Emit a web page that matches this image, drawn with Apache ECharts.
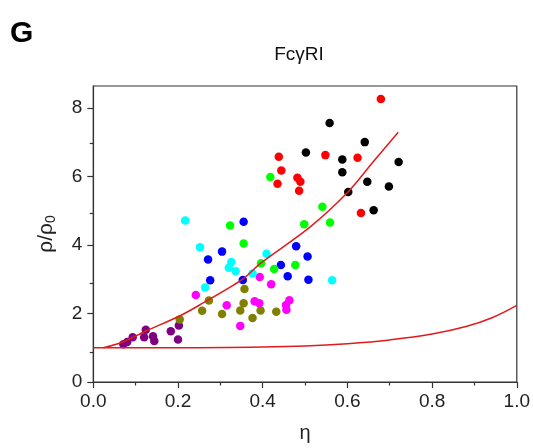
<!DOCTYPE html>
<html>
<head>
<meta charset="utf-8">
<script src="https://cdn.jsdelivr.net/npm/echarts@6/dist/echarts.min.js"></script>
<style>
  html, body { margin: 0; padding: 0; background: #fff; }
  #chart { width: 533px; height: 448px; }
</style>
</head>
<body>
<div id="chart"></div>
<script>
// Measured points: [η, ρ/ρ0] for each cell group
const purple = [[0.071,1.10],[0.080,1.17],[0.093,1.31],[0.124,1.53],[0.120,1.31],[0.141,1.34],[0.144,1.20],[0.183,1.48],[0.200,1.24],[0.202,1.65]];
const olive = [[0.204,1.83],[0.257,2.08],[0.273,2.38],[0.304,1.99],[0.347,2.09],[0.355,2.30],[0.357,2.72],[0.376,1.87],[0.395,2.09],[0.432,2.05]];
const magenta = [[0.242,2.54],[0.315,2.24],[0.347,1.64],[0.381,2.36],[0.392,2.30],[0.393,3.07],[0.420,2.86],[0.463,2.39],[0.455,2.25],[0.456,2.11]];
const cyan = [[0.217,4.72],[0.252,3.94],[0.264,2.76],[0.326,3.51],[0.320,3.34],[0.336,3.24],[0.409,3.75],[0.376,3.17],[0.564,2.97]];
const blue = [[0.355,4.68],[0.304,3.81],[0.271,3.58],[0.276,2.97],[0.353,2.98],[0.443,3.42],[0.459,3.09],[0.479,3.97],[0.506,3.67],[0.508,2.99]];
const green = [[0.323,4.57],[0.355,4.05],[0.396,3.47],[0.427,3.30],[0.477,3.42],[0.418,5.99],[0.498,4.61],[0.559,4.66],[0.541,5.12]];
const red = [[0.438,6.58],[0.444,6.18],[0.435,5.79],[0.482,5.97],[0.489,5.85],[0.486,5.59],[0.548,6.63],[0.624,6.55],[0.679,8.27],[0.632,4.94]];
const black = [[0.502,6.71],[0.558,7.57],[0.588,6.50],[0.588,6.13],[0.602,5.55],[0.641,7.01],[0.647,5.85],[0.662,5.02],[0.698,5.71],[0.721,6.43]];

// Model curves
const curveUpper = [[0.024,1.0],[0.07,1.17],[0.124,1.49],[0.204,1.93],[0.251,2.25],[0.351,2.99],[0.396,3.48],[0.51,4.51],[0.602,5.56],[0.66,6.42],[0.72,7.30]];
const curveLower = [[0,1.0],[0.2,1.0],[0.4,1.02],[0.5,1.05],[0.6,1.12],[0.7,1.23],[0.8,1.40],[0.88,1.62],[0.94,1.87],[1.0,2.24]];

// Axis ticks
const yMajorTicks = [0, 2, 4, 6, 8];
const yMinorTicks = [1, 3, 5, 7];

const groups = [
  { data: purple, color: '#800080' },
  { data: olive, color: '#808000' },
  { data: magenta, color: '#ff00ff' },
  { data: cyan, color: '#00ffff' },
  { data: blue, color: '#0000ff' },
  { data: green, color: '#00ff00' },
  { data: red, color: '#ff0000' },
  { data: black, color: '#000000' }
];

const FONT = '"Liberation Sans", Arial, sans-serif';
const AXIS = '#333333';
const gridBox = { left: 93.3, right: 14.7, top: 86, bottom: 60.5 };

const chart = echarts.init(document.getElementById('chart'), null, { renderer: 'canvas' });

const scatterSeries = groups.map(g => ({
  type: 'scatter',
  xAxisIndex: 0,
  yAxisIndex: 0,
  data: g.data,
  symbol: 'circle',
  symbolSize: 8.5,
  itemStyle: { color: g.color, opacity: 1 },
  z: 2
}));

const lineStyle = { color: '#e31a1c', width: 1.5 };

chart.setOption({
  animation: false,
  backgroundColor: '#ffffff',
  textStyle: { fontFamily: FONT },
  graphic: [
    {
      type: 'text', left: 10, top: 19,
      style: { text: 'G', fontFamily: FONT, fontSize: 30, fontWeight: 'bold', fill: '#000' }
    },
    {
      type: 'text', x: 299, y: 45,
      style: { text: 'FcγRI', fontFamily: FONT, fontSize: 19, fill: '#111', align: 'center', verticalAlign: 'top' }
    }
  ],
  grid: [
    Object.assign({ show: true, borderColor: AXIS, borderWidth: 1.2, backgroundColor: 'transparent' }, gridBox),
    Object.assign({ show: false }, gridBox)
  ],
  xAxis: [
    {
      gridIndex: 0, type: 'value', min: 0, max: 1, interval: 0.2,
      axisLine: { show: true, lineStyle: { color: AXIS, width: 1.2 } },
      axisTick: { show: true, length: 6, lineStyle: { color: AXIS, width: 1.2 } },
      minorTick: { show: true, splitNumber: 2, length: 3.5, lineStyle: { color: AXIS, width: 1.2 } },
      axisLabel: { formatter: v => v.toFixed(1), fontSize: 19, color: '#222', margin: 10, fontFamily: FONT },
      splitLine: { show: false },
      name: 'η', nameLocation: 'middle', nameGap: 41,
      nameTextStyle: { fontSize: 20, color: '#222', fontFamily: FONT }
    },
    { gridIndex: 1, type: 'value', min: 0, max: 1, show: false }
  ],
  yAxis: [
    {
      gridIndex: 0, type: 'value', min: 0, max: 8.65, interval: 2,
      axisLine: { show: true, lineStyle: { color: AXIS, width: 1.2 } },
      axisTick: { show: true, length: 6, customValues: yMajorTicks, lineStyle: { color: AXIS, width: 1.2 } },
      axisLabel: { customValues: yMajorTicks, fontSize: 19, color: '#222', margin: 11, fontFamily: FONT },
      splitLine: { show: false },
      name: '{a|ρ/ρ}{b|0}', nameLocation: 'middle', nameGap: 35, nameRotate: 90,
      nameTextStyle: {
        color: '#222', fontFamily: FONT,
        rich: {
          a: { fontSize: 21, lineHeight: 25, fontFamily: FONT, color: '#222' },
          b: { fontSize: 14, lineHeight: 15, verticalAlign: 'bottom', fontFamily: FONT, color: '#222' }
        }
      }
    },
    {
      gridIndex: 1, type: 'value', min: 0, max: 8.65, position: 'left',
      axisLine: { show: false },
      axisTick: { show: true, length: 3.5, customValues: yMinorTicks, lineStyle: { color: AXIS, width: 1.2 } },
      axisLabel: { show: false },
      splitLine: { show: false }
    }
  ],
  series: scatterSeries.concat([
    {
      type: 'line', xAxisIndex: 0, yAxisIndex: 0, data: curveUpper,
      smooth: 0.3, showSymbol: false, symbol: 'none', lineStyle: lineStyle, z: 3
    },
    {
      type: 'line', xAxisIndex: 0, yAxisIndex: 0, data: curveLower,
      smooth: 0.4, showSymbol: false, symbol: 'none', lineStyle: lineStyle, z: 3
    }
  ])
});
</script>
</body>
</html>
